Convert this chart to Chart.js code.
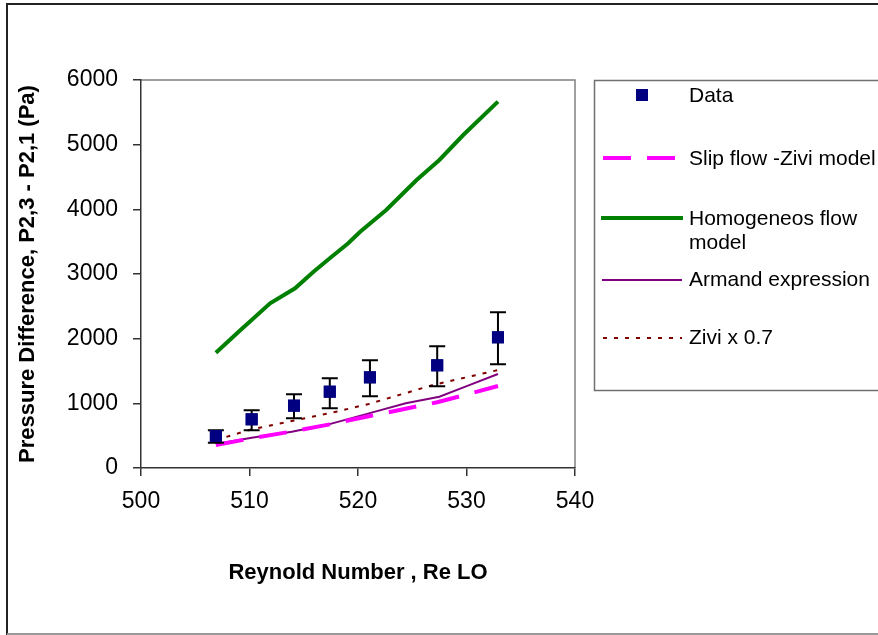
<!DOCTYPE html>
<html lang="en">
<head>
    <meta charset="UTF-8">
    <title>Pressure Difference vs Reynold Number</title>
    <script src="https://cdn.jsdelivr.net/npm/chart.js"></script>
    <style>
        body { margin: 0; background: #fff; }
        canvas { display: block; }
    </style>
</head>
<body>
<canvas id="dpChart" width="878" height="635"></canvas>

<script>
    // Measured data (Reynold number vs pressure difference)
    const reData = [506.9, 510.2, 514.1, 517.4, 521.1, 527.3, 532.9];
    const dpData = [495, 753, 964, 1180, 1402, 1588, 2021];
    const dpHigh = [583, 892, 1139, 1387, 1665, 1882, 2408];
    const dpLow = [392, 583, 768, 923, 1108, 1263, 1603];

    // Model curves
    const slipRe = [506.9, 510.2, 514.1, 517.4, 521.1, 527.3, 532.9];
    const slipDp = [356, 459, 570, 675, 804, 1016, 1268];

    const homRe = [506.9, 509.1, 511.9, 514.2, 515.9, 517.4, 519.1, 520.2, 522.6, 525.4, 527.5, 529.7, 532.9];
    const homDp = [1783, 2123, 2547, 2779, 3036, 3243, 3475, 3654, 3990, 4454, 4763, 5149, 5665];

    const armRe = [506.9, 510.2, 513.9, 517.3, 521.0, 524.4, 527.5, 529.9, 532.9];
    const armDp = [371, 469, 562, 675, 845, 1000, 1103, 1258, 1453];

    const ziviRe = [506.9, 510.2, 513.9, 517.6, 521.0, 526.9, 532.9];
    const ziviDp = [433, 598, 727, 855, 990, 1283, 1515];

    const seriesNames = ['Data', 'Slip flow -Zivi model', 'Homogeneos flow model', 'Armand expression', 'Zivi x 0.7'];

    const xTitle = 'Reynold Number , Re LO';
    const yTitle = 'Pressure Difference, P2,3 - P2,1 (Pa)';

    const fontFamily = '"Liberation Sans", Arial, sans-serif';

    function toPoints(xs, ys) {
        return xs.map((x, i) => ({ x: x, y: ys[i] }));
    }

    // white background, outer frame and plot frame
    const framePlugin = {
        id: 'frame',
        beforeDraw(chart) {
            const ctx = chart.ctx;
            ctx.save();
            ctx.fillStyle = '#fff';
            ctx.fillRect(0, 0, chart.width, chart.height);
            ctx.strokeStyle = '#222';
            ctx.lineWidth = 2;
            ctx.beginPath();
            ctx.moveTo(7, 635);
            ctx.lineTo(7, 4);
            ctx.lineTo(878, 4);
            ctx.stroke();
            ctx.strokeStyle = '#999';
            ctx.beginPath();
            ctx.moveTo(7, 634);
            ctx.lineTo(878, 634);
            ctx.stroke();
            const a = chart.chartArea;
            ctx.strokeStyle = '#808080';
            ctx.lineWidth = 1.5;
            ctx.beginPath();
            ctx.moveTo(a.left, a.top);
            ctx.lineTo(a.right, a.top);
            ctx.lineTo(a.right, a.bottom);
            ctx.stroke();
            ctx.restore();
        }
    };

    // error bars on the measured data
    const errorBarPlugin = {
        id: 'errorBars',
        afterDatasetsDraw(chart) {
            const ctx = chart.ctx;
            const xs = chart.scales.x;
            const ys = chart.scales.y;
            ctx.save();
            ctx.strokeStyle = '#000';
            ctx.lineWidth = 2;
            reData.forEach((re, i) => {
                const px = xs.getPixelForValue(re);
                const top = ys.getPixelForValue(dpHigh[i]);
                const bot = ys.getPixelForValue(dpLow[i]);
                ctx.beginPath();
                ctx.moveTo(px, top);
                ctx.lineTo(px, bot);
                ctx.moveTo(px - 8, top);
                ctx.lineTo(px + 8, top);
                ctx.moveTo(px - 8, bot);
                ctx.lineTo(px + 8, bot);
                ctx.stroke();
            });
            // redraw squares on top of the bars
            ctx.fillStyle = '#000080';
            reData.forEach((re, i) => {
                const px = xs.getPixelForValue(re);
                const py = ys.getPixelForValue(dpData[i]);
                ctx.fillRect(px - 6, py - 6, 12, 12);
            });
            ctx.restore();
        }
    };

    // boxed legend on the right
    const legendPlugin = {
        id: 'boxLegend',
        afterDraw(chart) {
            const ctx = chart.ctx;
            ctx.save();
            ctx.strokeStyle = '#707070';
            ctx.lineWidth = 1.5;
            ctx.strokeRect(594.5, 80.5, 400, 310);

            ctx.font = '21px ' + fontFamily;
            ctx.fillStyle = '#000';
            ctx.textBaseline = 'middle';
            const textX = 689;

            // Data
            ctx.fillStyle = '#000080';
            ctx.fillRect(636, 89, 12, 12);
            ctx.fillStyle = '#000';
            ctx.fillText(seriesNames[0], textX, 96);

            // Slip flow
            ctx.strokeStyle = '#ff00ff';
            ctx.lineWidth = 4;
            ctx.setLineDash([28, 16]);
            ctx.beginPath();
            ctx.moveTo(603, 158);
            ctx.lineTo(675, 158);
            ctx.stroke();
            ctx.fillText(seriesNames[1], textX, 159);

            // Homogeneous
            ctx.setLineDash([]);
            ctx.strokeStyle = '#008000';
            ctx.lineWidth = 4;
            ctx.beginPath();
            ctx.moveTo(601, 218);
            ctx.lineTo(683, 218);
            ctx.stroke();
            ctx.fillText('Homogeneos flow', textX, 219);
            ctx.fillText('model', textX, 243);

            // Armand
            ctx.strokeStyle = '#800080';
            ctx.lineWidth = 2;
            ctx.beginPath();
            ctx.moveTo(602, 280);
            ctx.lineTo(682, 280);
            ctx.stroke();
            ctx.fillText(seriesNames[3], textX, 280);

            // Zivi x 0.7
            ctx.strokeStyle = '#800000';
            ctx.lineWidth = 2;
            ctx.setLineDash([4, 7]);
            ctx.beginPath();
            ctx.moveTo(603, 338);
            ctx.lineTo(682, 338);
            ctx.stroke();
            ctx.setLineDash([]);
            ctx.fillText(seriesNames[4], textX, 338);
            ctx.restore();
        }
    };

    const ctx = document.getElementById('dpChart').getContext('2d');
    new Chart(ctx, {
        type: 'scatter',
        data: {
            datasets: [
                {
                    label: seriesNames[0],
                    data: toPoints(reData, dpData),
                    pointStyle: 'rect',
                    pointRadius: 8.5,
                    backgroundColor: '#000080',
                    borderColor: '#000080',
                    borderWidth: 0,
                    showLine: false
                },
                {
                    label: seriesNames[1],
                    data: toPoints(slipRe, slipDp),
                    showLine: true,
                    borderColor: '#ff00ff',
                    borderWidth: 4,
                    borderDash: [28, 16],
                    pointRadius: 0
                },
                {
                    label: seriesNames[2],
                    data: toPoints(homRe, homDp),
                    showLine: true,
                    borderColor: '#008000',
                    borderWidth: 4,
                    pointRadius: 0
                },
                {
                    label: seriesNames[3],
                    data: toPoints(armRe, armDp),
                    showLine: true,
                    borderColor: '#800080',
                    borderWidth: 2,
                    pointRadius: 0
                },
                {
                    label: seriesNames[4],
                    data: toPoints(ziviRe, ziviDp),
                    showLine: true,
                    borderColor: '#800000',
                    borderWidth: 2,
                    borderDash: [4, 7],
                    pointRadius: 0
                }
            ]
        },
        options: {
            responsive: false,
            animation: false,
            layout: {
                padding: { left: 8, top: 80, right: 303, bottom: 0 }
            },
            plugins: {
                legend: { display: false },
                tooltip: { enabled: false }
            },
            scales: {
                x: {
                    type: 'linear',
                    min: 500,
                    max: 540,
                    ticks: {
                        stepSize: 10,
                        color: '#000',
                        padding: 12,
                        font: { family: fontFamily, size: 23 },
                        callback: v => String(v)
                    },
                    grid: { drawOnChartArea: false, tickLength: 8, color: '#333', lineWidth: 1.5 },
                    border: { color: '#333', width: 1.5 },
                    title: {
                        display: true,
                        text: xTitle,
                        color: '#000',
                        padding: { top: 49, bottom: 49 },
                        font: { family: fontFamily, size: 22, weight: 'bold' }
                    },
                    afterFit(scale) { scale.height = 167; }
                },
                y: {
                    min: 0,
                    max: 6000,
                    ticks: {
                        stepSize: 1000,
                        color: '#000',
                        padding: 15,
                        font: { family: fontFamily, size: 23 },
                        callback: v => String(v)
                    },
                    grid: { drawOnChartArea: false, tickLength: 8, color: '#333', lineWidth: 1.5 },
                    border: { color: '#333', width: 1.5 },
                    title: {
                        display: true,
                        text: yTitle,
                        color: '#000',
                        padding: { top: 7, bottom: 7 },
                        font: { family: fontFamily, size: 22, weight: 'bold' }
                    },
                    afterFit(scale) { scale.width = 133; }
                }
            }
        },
        plugins: [framePlugin, errorBarPlugin, legendPlugin]
    });
</script>
</body>
</html>
